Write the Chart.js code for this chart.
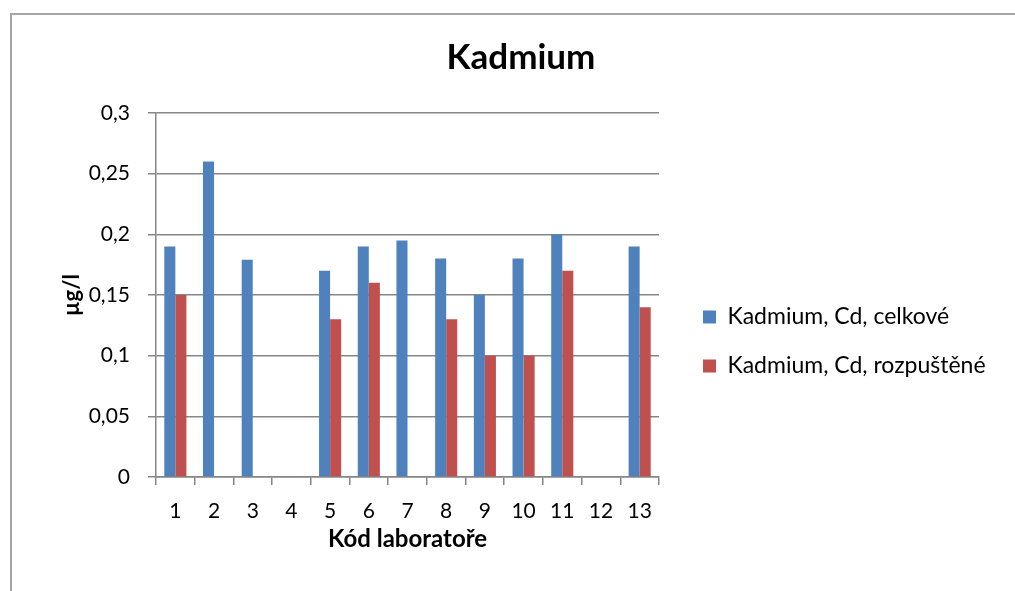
<!DOCTYPE html>
<html>
<head>
<meta charset="utf-8">
<script src="https://cdn.jsdelivr.net/npm/chart.js@4.4.1/dist/chart.umd.min.js"></script>
<style>
  html, body { margin: 0; padding: 0; background: #fff; overflow: hidden; }
  #frame { position: absolute; left: 10px; top: 13px; width: 1100px; height: 700px; border: 2px solid #a6a6a6; }
  #wrap { position: absolute; left: 0; top: 0; width: 1015px; height: 591px; }
</style>
</head>
<body>
<div id="frame"></div>
<div id="wrap"><canvas id="chart" width="1015" height="591"></canvas></div>
<script>
// Lab codes on the x axis
const labCodes = ['1', '2', '3', '4', '5', '6', '7', '8', '9', '10', '11', '12', '13'];

// Cadmium values in µg/l (null = lab did not report)
const celkove = [0.19, 0.26, 0.179, null, 0.17, 0.19, 0.195, 0.18, 0.15, 0.18, 0.2, null, 0.19];
const rozpustene = [0.15, null, null, null, 0.13, 0.16, null, 0.13, 0.1, 0.1, 0.17, null, 0.14];

const seriesNames = ['Kadmium, Cd, celkové', 'Kadmium, Cd, rozpuštěné'];
const seriesColors = ['#4F81BD', '#C0504D'];

// y axis ticks and their Czech labels
const yTicks = [0, 0.05, 0.1, 0.15, 0.2, 0.25, 0.3];
const yTickLabels = ['0', '0,05', '0,1', '0,15', '0,2', '0,25', '0,3'];

const FONT = 'Lato, "Open Sans", sans-serif';
const gridColor = '#868686';

// measure legend text so the legend sits where Excel put it
const legendSize = 23;
const legendPad = 49 - legendSize;
const mctx = document.createElement('canvas').getContext('2d');
mctx.font = legendSize + 'px ' + FONT;
const textW = Math.max(...seriesNames.map(s => mctx.measureText(s).width));
const legendW = legendPad + 13 + legendSize / 2 + textW + 10;
const legendLeft = 703 - legendPad;
const padR = Math.max(0, 1015 - legendLeft - legendW);
const padL = padR + 27;

Chart.defaults.color = '#000';
Chart.defaults.font.family = FONT;

new Chart(document.getElementById('chart'), {
    type: 'bar',
    data: {
        labels: labCodes,
        datasets: [
            { label: seriesNames[0], data: celkove, backgroundColor: seriesColors[0] },
            { label: seriesNames[1], data: rozpustene, backgroundColor: seriesColors[1] },
        ],
    },
    options: {
        responsive: false,
        animation: false,
        categoryPercentage: 2 / 3.5,
        barPercentage: 1,
        layout: { padding: { left: padL, right: padR, top: 0, bottom: 0 } },
        plugins: {
            tooltip: { enabled: false },
            title: {
                display: true,
                text: 'Kadmium',
                font: { size: 35, weight: 'bold' },
                padding: { top: 36.5, bottom: 34.5 },
            },
            legend: {
                position: 'right',
                maxWidth: 500,
                title: { display: true, text: ' ', font: { size: 10 }, padding: { top: 40, bottom: 40 } },
                labels: {
                    boxWidth: 13,
                    boxHeight: 13,
                    padding: legendPad,
                    font: { size: legendSize },
                },
            },
        },
        scales: {
            x: {
                grid: { drawOnChartArea: false, drawTicks: true, tickLength: 8, color: gridColor, lineWidth: 1.5 },
                border: { color: gridColor, width: 1.5 },
                ticks: { font: { size: 21 }, padding: 14, autoSkip: false, maxRotation: 0 },
                title: {
                    display: true,
                    text: 'Kód laboratoře',
                    font: { size: 24, weight: 'bold' },
                    padding: { top: 0, bottom: 37.6 },
                },
                afterFit: s => { s.height = 114; },
            },
            y: {
                min: 0,
                max: 0.3,
                afterBuildTicks: s => { s.ticks = yTicks.map(v => ({ value: v })); },
                grid: { color: gridColor, lineWidth: 1.5, tickLength: 8 },
                border: { color: gridColor, width: 1.5 },
                ticks: {
                    font: { size: 21 },
                    padding: 18,
                    callback: v => yTickLabels[yTicks.indexOf(v)],
                },
                title: {
                    display: true,
                    text: 'µg/l',
                    font: { size: 22, weight: 'bold' },
                    padding: { top: Math.max(0, 72 - padL - 13.2), bottom: 0 },
                },
                afterFit: s => { s.width = 156 - padL; },
            },
            // empty spacer between plot and legend
            yGap: {
                axis: 'y',
                position: 'right',
                ticks: { display: false },
                grid: { display: false },
                border: { display: false },
                afterFit: s => { s.width = legendLeft - 659; },
            },
        },
    },
});
</script>
</body>
</html>
